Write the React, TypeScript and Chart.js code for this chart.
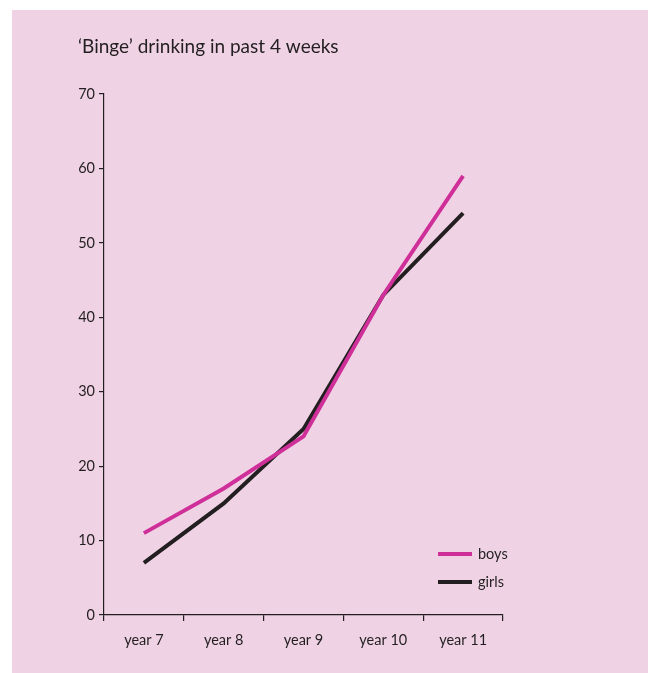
import React, { useEffect, useRef } from "react";
import { Chart, registerables } from "chart.js";

Chart.register(...registerables);

const categories = ["year 7", "year 8", "year 9", "year 10", "year 11"];
const boys = [11, 17, 24, 43, 59];
const girls = [7, 15, 25, 43, 54];
const yTicks = [0, 10, 20, 30, 40, 50, 60, 70];
const titleText = "\u2018Binge\u2019 drinking in past 4 weeks";

const INK = "#231f20";
const PINK_LINE = "#cf2f98";
const BG = "#efd3e5";
const FONT = "Lato, 'Open Sans', sans-serif";

const overlayPlugin = {
  id: "overlay",
  afterDraw(chart: any) {
    const ctx = chart.ctx;
    const area = chart.chartArea;
    ctx.save();
    // title
    ctx.fillStyle = INK;
    ctx.font = `19px ${FONT}`;
    ctx.textAlign = "left";
    ctx.textBaseline = "middle";
    ctx.fillText(titleText, 66, 37);
    // legend
    ctx.font = `14.5px ${FONT}`;
    chart.data.datasets.forEach((ds: any, i: number) => {
      const y = area.bottom - 61 + i * 28;
      const x0 = area.right - 65;
      ctx.strokeStyle = ds.borderColor;
      ctx.lineWidth = 4;
      ctx.beginPath();
      ctx.moveTo(x0, y);
      ctx.lineTo(x0 + 34, y);
      ctx.stroke();
      ctx.fillStyle = INK;
      ctx.fillText(ds.label, x0 + 40, y);
    });
    ctx.restore();
  },
};

export default function App() {
  const ref = useRef<HTMLCanvasElement | null>(null);
  useEffect(() => {
    if (!ref.current) return;
    const chart = new Chart(ref.current, {
      type: "line",
      data: {
        labels: categories,
        datasets: [
          {
            label: "boys",
            data: boys,
            borderColor: PINK_LINE,
            backgroundColor: PINK_LINE,
            borderWidth: 4,
            pointRadius: 0,
            tension: 0,
          },
          {
            label: "girls",
            data: girls,
            borderColor: INK,
            backgroundColor: INK,
            borderWidth: 4,
            pointRadius: 0,
            tension: 0,
          },
        ],
      },
      options: {
        animation: false,
        responsive: false,
        maintainAspectRatio: false,
        layout: { padding: { top: 84, right: 145, left: 0, bottom: 0 } },
        plugins: {
          legend: { display: false },
          title: { display: false },
          tooltip: { enabled: false },
        },
        scales: {
          x: {
            type: "category",
            offset: true,
            grid: {
              offset: true,
              drawOnChartArea: false,
              drawTicks: true,
              tickLength: 6,
              color: INK,
              lineWidth: 1.2,
            },
            border: { display: true, color: INK, width: 1.2 },
            ticks: {
              color: INK,
              font: { family: FONT, size: 14.5 },
              padding: 11,
              maxRotation: 0,
            },
            afterFit(scale: any) {
              scale.height = 58;
            },
          },
          y: {
            min: 0,
            max: 70,
            afterBuildTicks(scale: any) {
              scale.ticks = yTicks.map((v) => ({ value: v }));
            },
            grid: {
              drawOnChartArea: false,
              drawTicks: true,
              tickLength: 5,
              color: INK,
              lineWidth: 1.2,
            },
            border: { display: true, color: INK, width: 1.2 },
            ticks: {
              color: INK,
              font: { family: FONT, size: 14.5 },
              padding: 4,
            },
            afterFit(scale: any) {
              scale.width = 92;
            },
          },
        },
      },
      plugins: [overlayPlugin],
    } as any);
    return () => chart.destroy();
  }, []);

  return (
    <div
      style={{
        position: "absolute",
        left: 0,
        top: 0,
        width: 648,
        height: 673,
        background: "#ffffff",
      }}
    >
      <div
        style={{
          position: "absolute",
          left: 12,
          top: 10,
          width: 636,
          height: 663,
          background: BG,
        }}
      >
        <canvas ref={ref} width={636} height={663} style={{ display: "block" }} />
      </div>
    </div>
  );
}
